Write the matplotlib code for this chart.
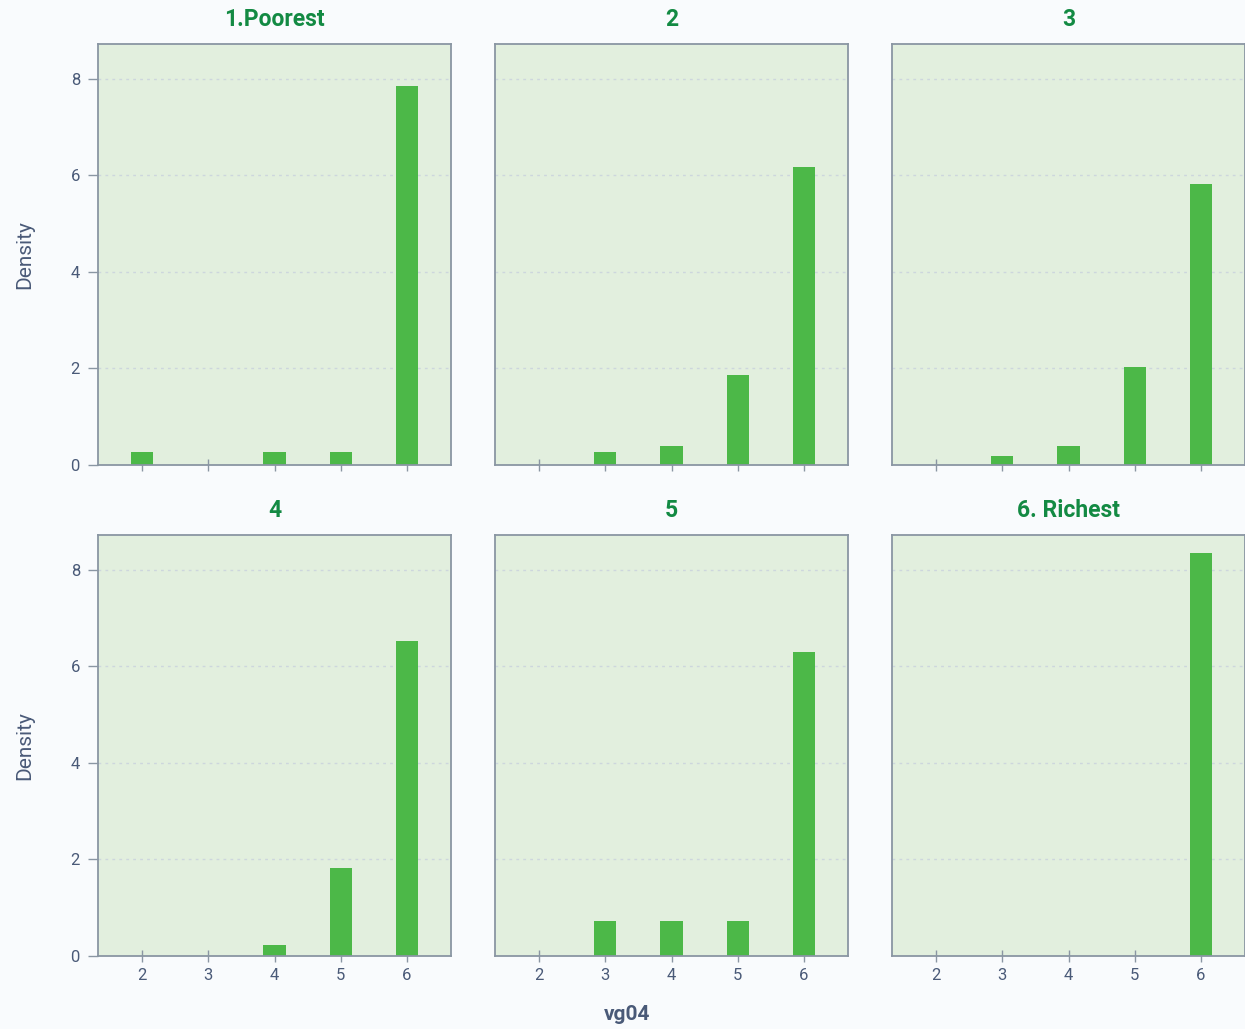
import numpy as np
import matplotlib
matplotlib.use("Agg")
import matplotlib.pyplot as plt

plt.rcParams['font.family'] = ['Roboto', 'DejaVu Sans']

# vg04 response categories and density per wealth quintile
values = [2, 3, 4, 5, 6]
groups = ['1.Poorest', '2', '3', '4', '5', '6. Richest']
dens_poorest = [0.27, 0.0, 0.27, 0.27, 7.86]
dens_q2 = [0.0, 0.27, 0.39, 1.87, 6.18]
dens_q3 = [0.0, 0.19, 0.39, 2.03, 5.82]
dens_q4 = [0.0, 0.0, 0.23, 1.82, 6.53]
dens_q5 = [0.0, 0.73, 0.73, 0.73, 6.30]
dens_richest = [0.0, 0.0, 0.0, 0.0, 8.35]
densities = [dens_poorest, dens_q2, dens_q3, dens_q4, dens_q5, dens_richest]

bg = '#f9fbfd'
panel_bg = '#e2efde'
bar_col = '#4cb848'
title_col = '#138a43'
text_col = '#4a5a78'
spine_col = '#8a96a3'

W, H = 1245, 1029
fig = plt.figure(figsize=(W / 100, H / 100), dpi=100, facecolor=bg)

lefts = [98, 495, 892]
tops = [44, 535]
pw, ph = 353, 421

for i, (name, dens) in enumerate(zip(groups, densities)):
    r, c = divmod(i, 3)
    ax = fig.add_axes([lefts[c] / W, 1 - (tops[r] + ph) / H, pw / W, ph / H])
    ax.set_facecolor(panel_bg)
    ax.bar(values, dens, width=1 / 3, color=bar_col, zorder=2)
    ax.set_xlim(4 / 3, 20 / 3)
    ax.set_ylim(0, 8.72)
    ax.set_xticks(values)
    ax.set_yticks([0, 2, 4, 6, 8])
    ax.grid(axis='y', color='#cdd6dd', ls=(0, (2, 3)), lw=1, zorder=1)
    for s in ax.spines.values():
        s.set_color(spine_col)
        s.set_linewidth(1.3)
    ax.tick_params(axis='x', direction='inout', length=9, color=spine_col,
                   width=1, labelsize=12, labelcolor=text_col, pad=4)
    ax.tick_params(axis='y', direction='out', length=7, color=spine_col,
                   width=1, labelsize=12, labelcolor=text_col, pad=6)
    if r == 0:
        ax.tick_params(axis='x', labelbottom=False)
    if c != 0:
        ax.tick_params(axis='y', left=False, labelleft=False)
    else:
        ax.set_ylabel('Density', fontsize=15, color=text_col, labelpad=26)
    ax.set_title(name, fontsize=16.5, color=title_col, fontweight='bold', pad=13)

fig.text(627 / W, 1 - 1015 / H, 'vg04', fontsize=15, color=text_col,
         fontweight='bold', ha='center', va='center')

fig.savefig('out.png', dpi=100, facecolor=bg)
